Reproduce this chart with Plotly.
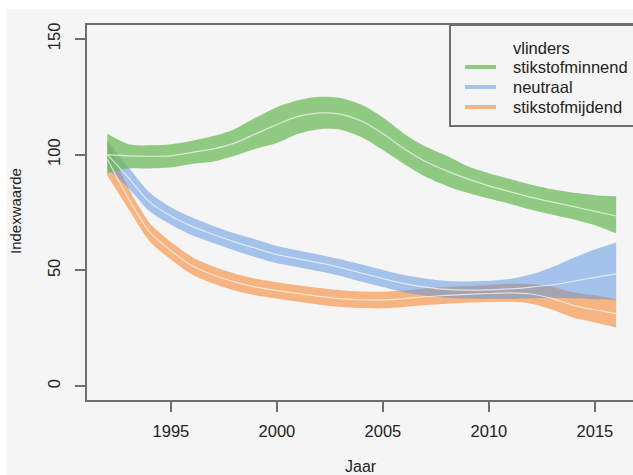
import plotly.graph_objects as go

# Index of butterfly groups (1992 = 100), smoothed trend with confidence band
years = list(range(1992, 2017))

minnend_mid = [100, 99.5, 99.3, 99.5, 101, 102.5, 105, 109, 113, 116.5, 118, 117.5, 114.5,
               109, 102.5, 97, 93, 89.5, 86.5, 84, 81.5, 79.5, 77.5, 75.5, 73.5]
minnend_hi = [109, 104.5, 104, 104.5, 106, 108, 111, 116, 120.5, 123.5, 125, 124.5, 121.5,
              116, 109, 103.5, 99.5, 95, 92, 89.5, 87, 85, 83.5, 82.5, 82]
minnend_lo = [92, 94, 94, 94.5, 96, 97, 99.5, 102.5, 105, 109, 111, 110.8, 107.5,
              102, 96, 90.5, 86.5, 83.5, 81, 78.7, 76.2, 74, 72, 69.5, 66]

neutraal_mid = [100, 90, 79.5, 73.5, 69, 65.5, 62.3, 59.5, 56.8, 55, 53.2, 51.2, 48.8,
                46.5, 44.3, 42.8, 41.8, 41.5, 41.6, 42, 42.8, 43.8, 45.3, 47, 48.5]
neutraal_hi = [106, 94.5, 83.5, 77.3, 72.8, 69.2, 66, 63.3, 60.5, 58.6, 56.8, 54.8, 52.5,
               50.2, 48, 46.5, 45.4, 45.2, 45.5, 46.3, 48.3, 51.5, 55.5, 59, 62]
neutraal_lo = [94, 85.5, 75.5, 69.7, 65.2, 61.8, 58.6, 55.7, 53.1, 51.4, 49.6, 47.6, 45.1,
               42.8, 40.6, 39.1, 38.2, 37.8, 37.7, 37.7, 38, 38.1, 38, 37.6, 37.3]

mijdend_mid = [98, 81, 66.5, 58.5, 52, 48, 45, 42.8, 41.3, 40, 38.8, 37.8, 37.3,
               37.2, 37.8, 38.6, 39.2, 39.6, 40, 40.3, 39.8, 37.8, 34.8, 33, 31.3]
mijdend_hi = [106, 85.5, 70.5, 62.3, 55.8, 51.7, 48.7, 46.4, 44.9, 43.6, 42.4, 41.4, 40.9,
              40.8, 41.4, 42.2, 42.8, 43.2, 43.7, 44.2, 44, 42.8, 40.5, 39.2, 37.5]
mijdend_lo = [91, 76.5, 62.5, 54.7, 48.2, 44.3, 41.3, 39.2, 37.7, 36.4, 35.2, 34.2, 33.7,
              33.6, 34.2, 35, 35.6, 36, 36.3, 36.4, 35.6, 33, 29.5, 27.5, 25.3]

legend_title = "vlinders"
series_names = ["stikstofminnend", "neutraal", "stikstofmijdend"]
y_ticks = [0, 50, 100, 150]
x_ticks = [1995, 2000, 2005, 2010, 2015]

BG = "#f5f5f5"
AXIS = "#6e6e6e"
FONT = "Liberation Sans, Arial, sans-serif"

# band fill (semi-transparent) and solid key colour
colors = {
    "stikstofminnend": ("rgba(110,185,90,0.75)", "rgb(143,200,128)"),
    "neutraal": ("rgba(86,146,224,0.5)", "rgb(165,195,234)"),
    "stikstofmijdend": ("rgba(246,137,54,0.6)", "rgb(245,180,130)"),
}

# plot area in pixels, used to place the key box
L, R, T, B = 87, 633, 25, 400


def px_x(px):
    return (px - L) / (R - L)


def px_y(py):
    return (B - py) / (B - T)


fig = go.Figure()

bands = [
    ("stikstofmijdend", mijdend_lo, mijdend_hi),
    ("neutraal", neutraal_lo, neutraal_hi),
    ("stikstofminnend", minnend_lo, minnend_hi),
]
for name, lo, hi in bands:
    fill = colors[name][0]
    fig.add_trace(go.Scatter(x=years, y=lo, mode="lines", showlegend=False,
                             line=dict(width=0, shape="spline", smoothing=0.8),
                             hoverinfo="skip"))
    fig.add_trace(go.Scatter(x=years, y=hi, mode="lines", showlegend=False,
                             fill="tonexty", fillcolor=fill, name=name,
                             line=dict(width=0, shape="spline", smoothing=0.8)))

for mid in [mijdend_mid, neutraal_mid, minnend_mid]:
    fig.add_trace(go.Scatter(x=years, y=mid, mode="lines", showlegend=False,
                             line=dict(color="rgba(255,255,255,0.65)", width=1.2,
                                       shape="spline", smoothing=0.8)))

# key box: header row followed by one row per group
shapes = [
    dict(type="rect", xref="paper", yref="paper", layer="below",
         x0=px_x(7), x1=1.05, y0=px_y(475), y1=px_y(9),
         fillcolor=BG, line=dict(width=0)),
    dict(type="rect", xref="paper", yref="paper", layer="above",
         x0=px_x(450), x1=px_x(645), y0=px_y(126), y1=px_y(25),
         fillcolor=BG, line=dict(color=AXIS, width=2)),
]
annotations = [
    dict(text=legend_title, xref="paper", yref="paper", x=px_x(511), y=px_y(48),
         xanchor="left", yanchor="middle", showarrow=False, font=dict(size=16.5)),
]
row_y = [67, 87, 107]
for name, ry in zip(series_names, row_y):
    shapes.append(dict(type="line", xref="paper", yref="paper", layer="above",
                       x0=px_x(465), x1=px_x(496), y0=px_y(ry), y1=px_y(ry),
                       line=dict(color=colors[name][1], width=4)))
    annotations.append(dict(text=name, xref="paper", yref="paper", x=px_x(511), y=px_y(ry),
                            xanchor="left", yanchor="middle", showarrow=False,
                            font=dict(size=16.5)))

annotations += [
    dict(text="Indexwaarde", xref="paper", yref="paper",
         x=px_x(15), y=px_y(211), textangle=-90,
         showarrow=False, xanchor="center", yanchor="middle",
         font=dict(size=15)),
    dict(text="Jaar", xref="paper", yref="paper",
         x=px_x(361), y=px_y(456),
         showarrow=False, xanchor="center", yanchor="top",
         font=dict(size=16)),
]

fig.update_layout(
    width=633, height=475,
    margin=dict(l=L, r=633 - R, t=T, b=475 - B),
    paper_bgcolor="white",
    plot_bgcolor=BG,
    font=dict(family=FONT, size=16, color="#222222"),
    showlegend=False,
    xaxis=dict(
        range=[1991.04, 2016.795], tickvals=x_ticks,
        showgrid=False, zeroline=False,
        showline=True, linecolor=AXIS, linewidth=2, mirror=True,
        ticks="outside", ticklen=10, tickwidth=1.5, tickcolor=AXIS,
        ticklabelstandoff=5, tickfont=dict(size=16.5),
    ),
    yaxis=dict(
        range=[-6, 156], tickvals=y_ticks, tickangle=-90,
        showgrid=False, zeroline=False,
        showline=True, linecolor=AXIS, linewidth=2, mirror=False,
        ticks="outside", ticklen=10, tickwidth=1.5, tickcolor=AXIS,
        ticklabelstandoff=8, tickfont=dict(size=16.5),
    ),
    shapes=shapes,
    annotations=annotations,
)

fig.write_html("out.html")
